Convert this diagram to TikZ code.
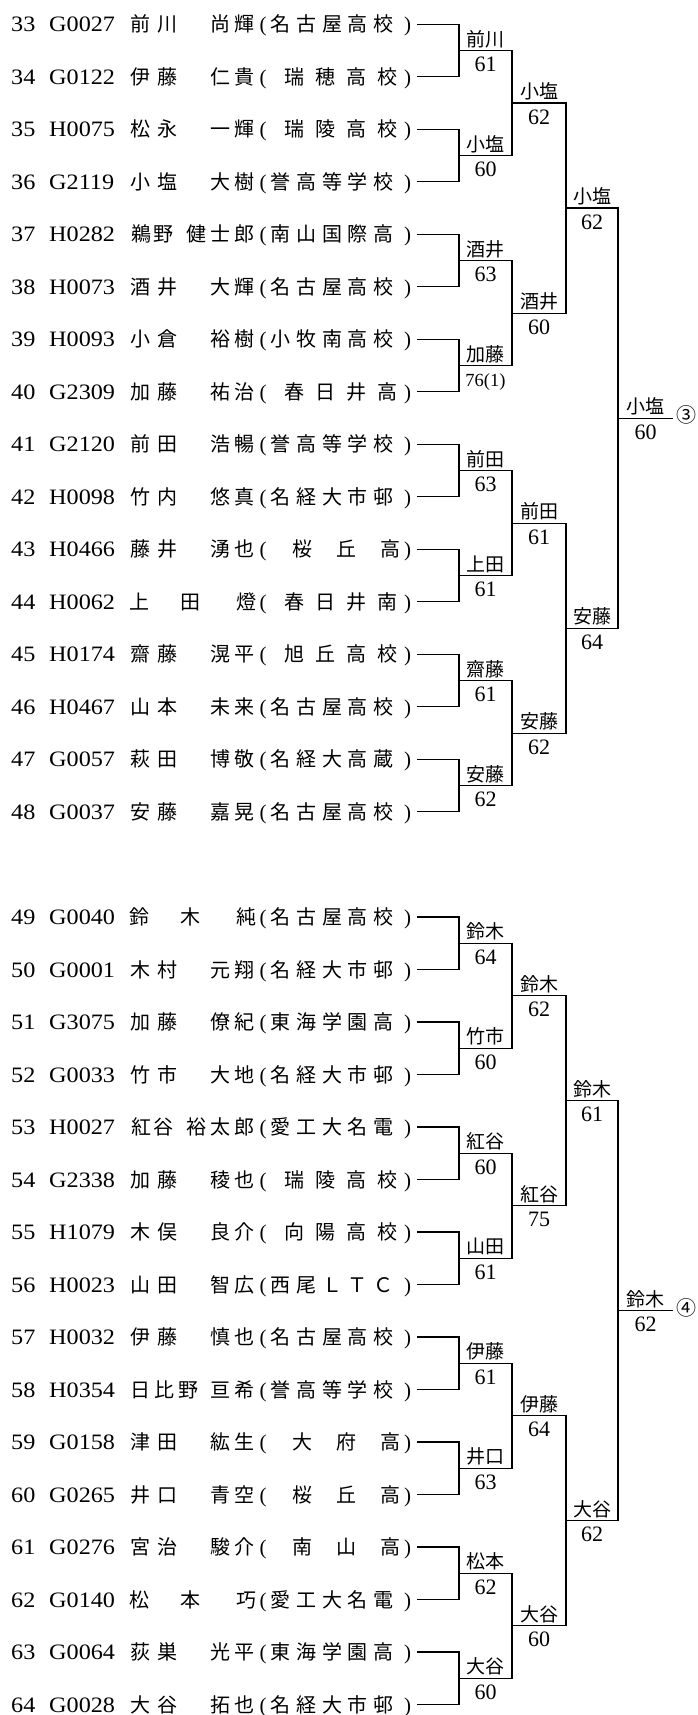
\documentclass[tikz,border=0pt]{standalone}
\usepackage{fontspec}
\setmainfont{Liberation Serif}
\newfontfamily\latw[FakeStretch=1.1]{Liberation Serif}
\newfontfamily\cjk{Noto Sans CJK JP}
\newcount\chn
\newcommand\yb{0}
\newcommand\pch[2]{\global\advance\chn by 1 \node[cj] (ch\the\chn) at (#1,\yb) {#2};}
% name layouts
\newcommand\nAA[4]{\pch{140}{#1}\pch{167}{#2}\pch{220}{#3}\pch{244}{#4}}
\newcommand\nAB[5]{\pch{141}{#1}\pch{163}{#2}\pch{196}{#3}\pch{220}{#4}\pch{244}{#5}}
\newcommand\nBA[5]{\pch{140}{#1}\pch{164}{#2}\pch{188}{#3}\pch{220}{#4}\pch{244}{#5}}
\newcommand\nAC[3]{\pch{139}{#1}\pch{190}{#2}\pch{246}{#3}}
% school layouts
\newcommand\sE[5]{\pch{280}{#1}\pch{306}{#2}\pch{332}{#3}\pch{357.5}{#4}\pch{383}{#5}}
\newcommand\sD[4]{\pch{294}{#1}\pch{325}{#2}\pch{356}{#3}\pch{387}{#4}}
\newcommand\sC[3]{\pch{302}{#1}\pch{346}{#2}\pch{390}{#3}}
\newcommand\prow[5]{%
 \pgfmathsetmacro\yb{#2+7.5}%
 \node[lat] (num#1) at (11,\yb) {#1};
 \node[lat] (id#1) at (49,\yb) {#3};
 #4
 \node[par] (lp#1) at (263,\yb) {(};
 #5
 \node[par] (rp#1) at (407.5,\yb) {)};
 \coordinate (e#1) at (417,#2);
}
\newcommand\mt[5]{\coordinate (#1) at (#2,#3); \draw[br] (#4) -| (#1) |- (#5);}
\newcommand\lab[6][sc]{%
 \node[wn] (#2n) at (#3,#4-4.3) {#5};
 \node[#1] (#2s) at (#3,#4+21) {#6};}
\tikzset{
 lat/.style={font=\latw\fontsize{22}{24}\selectfont, inner sep=0pt, anchor=base west},
 cj/.style={font=\cjk\fontsize{20}{24}\selectfont, inner sep=0pt, anchor=base},
 par/.style={font=\fontsize{21}{24}\selectfont, inner sep=0pt, anchor=base},
 wn/.style={font=\cjk\fontsize{19}{22}\selectfont, inner sep=0pt, anchor=base},
 sc/.style={font=\fontsize{22}{24}\selectfont, inner sep=0pt, anchor=base},
 scsmall/.style={font=\fontsize{18.5}{22}\selectfont, inner sep=0pt, anchor=base},
 br/.style={line width=1.1pt},
 circ/.style={font=\cjk\fontsize{20}{24}\selectfont, inner sep=0pt},
}
\begin{document}
\begin{tikzpicture}[x=1pt,y=-1pt]
\fill[white] (0,0) rectangle (698,1715);
\useasboundingbox (0,0) rectangle (698,1715);
% ---------- first block ----------
\prow{33}{24.3}{G0027}{\nAA{前}{川}{尚}{輝}}{\sE{名}{古}{屋}{高}{校}}
\prow{34}{76.8}{G0122}{\nAA{伊}{藤}{仁}{貴}}{\sD{瑞}{穂}{高}{校}}
\prow{35}{129.3}{H0075}{\nAA{松}{永}{一}{輝}}{\sD{瑞}{陵}{高}{校}}
\prow{36}{181.8}{G2119}{\nAA{小}{塩}{大}{樹}}{\sE{誉}{高}{等}{学}{校}}
\prow{37}{234.3}{H0282}{\nAB{鵜}{野}{健}{士}{郎}}{\sE{南}{山}{国}{際}{高}}
\prow{38}{286.8}{H0073}{\nAA{酒}{井}{大}{輝}}{\sE{名}{古}{屋}{高}{校}}
\prow{39}{339.3}{H0093}{\nAA{小}{倉}{裕}{樹}}{\sE{小}{牧}{南}{高}{校}}
\prow{40}{391.8}{G2309}{\nAA{加}{藤}{祐}{治}}{\sD{春}{日}{井}{高}}
\prow{41}{444.3}{G2120}{\nAA{前}{田}{浩}{暢}}{\sE{誉}{高}{等}{学}{校}}
\prow{42}{496.8}{H0098}{\nAA{竹}{内}{悠}{真}}{\sE{名}{経}{大}{市}{邨}}
\prow{43}{549.3}{H0466}{\nAA{藤}{井}{湧}{也}}{\sC{桜}{丘}{高}}
\prow{44}{601.8}{H0062}{\nAC{上}{田}{燈}}{\sD{春}{日}{井}{南}}
\prow{45}{654.3}{H0174}{\nAA{齋}{藤}{滉}{平}}{\sD{旭}{丘}{高}{校}}
\prow{46}{706.8}{H0467}{\nAA{山}{本}{未}{来}}{\sE{名}{古}{屋}{高}{校}}
\prow{47}{759.3}{G0057}{\nAA{萩}{田}{博}{敬}}{\sE{名}{経}{大}{高}{蔵}}
\prow{48}{811.8}{G0037}{\nAA{安}{藤}{嘉}{晃}}{\sE{名}{古}{屋}{高}{校}}
% round 1
\mt{a1}{459}{50.55}{e33}{e34}
\mt{a2}{459}{155.55}{e35}{e36}
\mt{a3}{459}{260.55}{e37}{e38}
\mt{a4}{459}{365.55}{e39}{e40}
\mt{a5}{459}{470.55}{e41}{e42}
\mt{a6}{459}{575.55}{e43}{e44}
\mt{a7}{459}{680.55}{e45}{e46}
\mt{a8}{459}{785.55}{e47}{e48}
% round 2
\mt{b1}{512}{103.05}{a1}{a2}
\mt{b2}{512}{313.05}{a3}{a4}
\mt{b3}{512}{523.05}{a5}{a6}
\mt{b4}{512}{733.05}{a7}{a8}
% round 3
\mt{c1}{566}{208.05}{b1}{b2}
\mt{c2}{566}{628.05}{b3}{b4}
% round 4
\mt{d1}{618}{418.05}{c1}{c2}
\coordinate (f1) at (673,418.05);
\draw[br] (d1) -- (f1);
% labels
\lab{a1}{485.5}{50.55}{前川}{61}
\lab{a2}{485.5}{155.55}{小塩}{60}
\lab{a3}{485.5}{260.55}{酒井}{63}
\lab[scsmall]{a4}{485.5}{365.55}{加藤}{76(1)}
\lab{a5}{485.5}{470.55}{前田}{63}
\lab{a6}{485.5}{575.55}{上田}{61}
\lab{a7}{485.5}{680.55}{齋藤}{61}
\lab{a8}{485.5}{785.55}{安藤}{62}
\lab{b1}{539}{103.05}{小塩}{62}
\lab{b2}{539}{313.05}{酒井}{60}
\lab{b3}{539}{523.05}{前田}{61}
\lab{b4}{539}{733.05}{安藤}{62}
\lab{c1}{592}{208.05}{小塩}{62}
\lab{c2}{592}{628.05}{安藤}{64}
\lab{d1}{645.5}{418.05}{小塩}{60}
\node[circ] (rank3) at (686,415) {③};
% ---------- second block ----------
\prow{49}{917}{G0040}{\nAC{鈴}{木}{純}}{\sE{名}{古}{屋}{高}{校}}
\prow{50}{969.5}{G0001}{\nAA{木}{村}{元}{翔}}{\sE{名}{経}{大}{市}{邨}}
\prow{51}{1022}{G3075}{\nAA{加}{藤}{僚}{紀}}{\sE{東}{海}{学}{園}{高}}
\prow{52}{1074.5}{G0033}{\nAA{竹}{市}{大}{地}}{\sE{名}{経}{大}{市}{邨}}
\prow{53}{1127}{H0027}{\nAB{紅}{谷}{裕}{太}{郎}}{\sE{愛}{工}{大}{名}{電}}
\prow{54}{1179.5}{G2338}{\nAA{加}{藤}{稜}{也}}{\sD{瑞}{陵}{高}{校}}
\prow{55}{1232}{H1079}{\nAA{木}{俣}{良}{介}}{\sD{向}{陽}{高}{校}}
\prow{56}{1284.5}{H0023}{\nAA{山}{田}{智}{広}}{\sE{西}{尾}{Ｌ}{Ｔ}{Ｃ}}
\prow{57}{1337}{H0032}{\nAA{伊}{藤}{慎}{也}}{\sE{名}{古}{屋}{高}{校}}
\prow{58}{1389.5}{H0354}{\nBA{日}{比}{野}{亘}{希}}{\sE{誉}{高}{等}{学}{校}}
\prow{59}{1442}{G0158}{\nAA{津}{田}{紘}{生}}{\sC{大}{府}{高}}
\prow{60}{1494.5}{G0265}{\nAA{井}{口}{青}{空}}{\sC{桜}{丘}{高}}
\prow{61}{1547}{G0276}{\nAA{宮}{治}{駿}{介}}{\sC{南}{山}{高}}
\prow{62}{1599.5}{G0140}{\nAC{松}{本}{巧}}{\sE{愛}{工}{大}{名}{電}}
\prow{63}{1652}{G0064}{\nAA{荻}{巣}{光}{平}}{\sE{東}{海}{学}{園}{高}}
\prow{64}{1704.5}{G0028}{\nAA{大}{谷}{拓}{也}}{\sE{名}{経}{大}{市}{邨}}
% round 1
\mt{A1}{459}{943.25}{e49}{e50}
\mt{A2}{459}{1048.25}{e51}{e52}
\mt{A3}{459}{1153.25}{e53}{e54}
\mt{A4}{459}{1258.25}{e55}{e56}
\mt{A5}{459}{1363.25}{e57}{e58}
\mt{A6}{459}{1468.25}{e59}{e60}
\mt{A7}{459}{1573.25}{e61}{e62}
\mt{A8}{459}{1678.25}{e63}{e64}
% round 2
\mt{B1}{512}{995.75}{A1}{A2}
\mt{B2}{512}{1205.75}{A3}{A4}
\mt{B3}{512}{1415.75}{A5}{A6}
\mt{B4}{512}{1625.75}{A7}{A8}
% round 3
\mt{C1}{566}{1100.75}{B1}{B2}
\mt{C2}{566}{1520.75}{B3}{B4}
% round 4
\mt{D1}{618}{1310.75}{C1}{C2}
\coordinate (F1) at (673,1310.75);
\draw[br] (D1) -- (F1);
% labels
\lab{A1}{485.5}{943.25}{鈴木}{64}
\lab{A2}{485.5}{1048.25}{竹市}{60}
\lab{A3}{485.5}{1153.25}{紅谷}{60}
\lab{A4}{485.5}{1258.25}{山田}{61}
\lab{A5}{485.5}{1363.25}{伊藤}{61}
\lab{A6}{485.5}{1468.25}{井口}{63}
\lab{A7}{485.5}{1573.25}{松本}{62}
\lab{A8}{485.5}{1678.25}{大谷}{60}
\lab{B1}{539}{995.75}{鈴木}{62}
\lab{B2}{539}{1205.75}{紅谷}{75}
\lab{B3}{539}{1415.75}{伊藤}{64}
\lab{B4}{539}{1625.75}{大谷}{60}
\lab{C1}{592}{1100.75}{鈴木}{61}
\lab{C2}{592}{1520.75}{大谷}{62}
\lab{D1}{645.5}{1310.75}{鈴木}{62}
\node[circ] (rank4) at (686,1308) {④};
\end{tikzpicture}
\end{document}
